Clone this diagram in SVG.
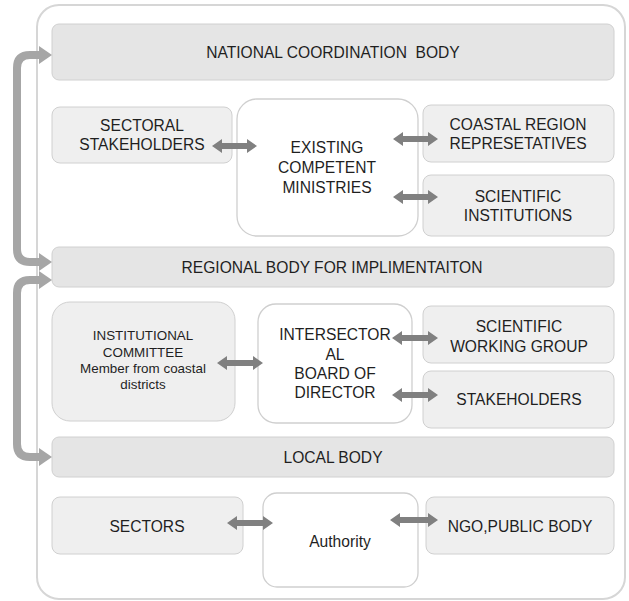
<svg xmlns="http://www.w3.org/2000/svg" width="629" height="601" viewBox="0 0 629 601">
<style>
text{font-family:"Liberation Sans",Arial,sans-serif;font-size:15.6px;fill:#1f1f1f;text-anchor:middle}
.small{font-size:13.4px}
.frame{fill:#fff;stroke:#d6d6d6;stroke-width:2}
.band{fill:#e5e5e5;stroke:#d0d0d0;stroke-width:1}
.side{fill:#efefef;stroke:#d0d0d0;stroke-width:1}
.core{fill:#fff;stroke:#cfcfcf;stroke-width:1.3}
.link{fill:none;stroke:#a6a6a6;stroke-width:8}
.dbl{fill:#808080}
</style>
<defs>
<marker id="ah" markerUnits="userSpaceOnUse" markerWidth="13" markerHeight="18" refX="0" refY="9" orient="auto-start-reverse" viewBox="0 0 13 18">
<path d="M0,0 L13,9 L0,18 z" fill="#a6a6a6"/>
</marker>
</defs>
<rect class="frame" x="37" y="5" width="588" height="594" rx="22"/>
<g id="national"><rect class="band" x="52" y="24" width="562" height="56" rx="7"/><text x="333" y="58" xml:space="preserve">NATIONAL COORDINATION  BODY</text></g>
<g id="sectoral"><rect class="side" x="52" y="107" width="180" height="56" rx="8"/><text x="142" y="131">SECTORAL</text><text x="142" y="150">STAKEHOLDERS</text></g>
<g id="ministries"><rect class="core" x="237" y="99" width="181" height="137" rx="20"/><text x="327" y="153">EXISTING</text><text x="327" y="173">COMPETENT</text><text x="327" y="193">MINISTRIES</text></g>
<g id="coastal"><rect class="side" x="423" y="105" width="191" height="57" rx="8"/><text x="518" y="130">COASTAL REGION</text><text x="518" y="149">REPRESETATIVES</text></g>
<g id="scientific"><rect class="side" x="423" y="175" width="191" height="61" rx="8"/><text x="518" y="202">SCIENTIFIC</text><text x="518" y="221">INSTITUTIONS</text></g>
<g id="regional"><rect class="band" x="52" y="247" width="562" height="40" rx="7"/><text x="332" y="273">REGIONAL BODY FOR IMPLIMENTAITON</text></g>
<g id="institutional"><rect class="side" x="52" y="302" width="183" height="119" rx="18"/><text class="small" x="143" y="340">INSTITUTIONAL</text><text class="small" x="143" y="357">COMMITTEE</text><text class="small" x="143" y="373">Member from coastal</text><text class="small" x="143" y="389">districts</text></g>
<g id="intersectoral"><rect class="core" x="258" y="304" width="154" height="119" rx="18"/><text x="335" y="340">INTERSECTOR</text><text x="335" y="360">AL</text><text x="335" y="379">BOARD OF</text><text x="335" y="398">DIRECTOR</text></g>
<g id="swg"><rect class="side" x="423" y="306" width="191" height="57" rx="8"/><text x="519" y="332">SCIENTIFIC</text><text x="519" y="352">WORKING GROUP</text></g>
<g id="stakeholders"><rect class="side" x="423" y="371" width="191" height="57" rx="8"/><text x="519" y="405">STAKEHOLDERS</text></g>
<g id="local"><rect class="band" x="52" y="437" width="562" height="40" rx="7"/><text x="333" y="463">LOCAL BODY</text></g>
<g id="sectors"><rect class="side" x="52" y="497" width="191" height="57" rx="8"/><text x="147" y="532">SECTORS</text></g>
<g id="authority"><rect class="core" x="263" y="493" width="155" height="94" rx="14"/><text x="340" y="547">Authority</text></g>
<g id="ngo"><rect class="side" x="426" y="497" width="188" height="57" rx="8"/><text x="520" y="532">NGO,PUBLIC BODY</text></g>
<g id="connectors">
<path class="link" d="M39,55 H30 Q17,55 17,68 V249 Q17,262 30,262 H39" marker-start="url(#ah)" marker-end="url(#ah)"/>
<path class="link" d="M39,280 H30 Q17,280 17,293 V444 Q17,457 30,457 H39" marker-start="url(#ah)" marker-end="url(#ah)"/>
<polygon class="dbl" points="212,146 222,139 222,143 247,143 247,139 257,146 247,153 247,149 222,149 222,153"/>
<polygon class="dbl" points="393,139 403,132 403,136 428,136 428,132 438,139 428,146 428,142 403,142 403,146"/>
<polygon class="dbl" points="393,197 403,190 403,194 428,194 428,190 438,197 428,204 428,200 403,200 403,204"/>
<polygon class="dbl" points="217,363 227,356 227,360 253,360 253,356 263,363 253,370 253,366 227,366 227,370"/>
<polygon class="dbl" points="392,338 402,331 402,335 428,335 428,331 438,338 428,345 428,341 402,341 402,345"/>
<polygon class="dbl" points="392,395 402,388 402,392 428,392 428,388 438,395 428,402 428,398 402,398 402,402"/>
<polygon class="dbl" points="227,523 237,516 237,520 263,520 263,516 273,523 263,530 263,526 237,526 237,530"/>
<polygon class="dbl" points="390,520 400,513 400,517 428,517 428,513 438,520 428,527 428,523 400,523 400,527"/>
</g>
</svg>
